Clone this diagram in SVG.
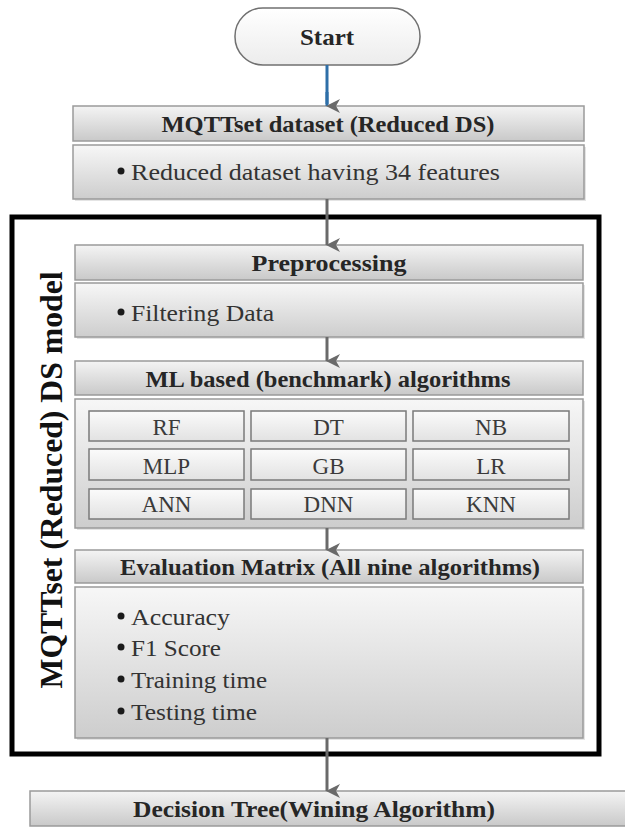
<svg xmlns="http://www.w3.org/2000/svg" width="625" height="827" viewBox="0 0 625 827">
<defs>
<linearGradient id="gHead" x1="0" y1="0" x2="0" y2="1">
<stop offset="0" stop-color="#f4f4f4"/><stop offset="1" stop-color="#c9c9c9"/>
</linearGradient>
<linearGradient id="gBody" x1="0" y1="0" x2="0" y2="1">
<stop offset="0" stop-color="#f7f7f7"/><stop offset="1" stop-color="#cdcdcd"/>
</linearGradient>
<linearGradient id="gCell" x1="0" y1="0" x2="0" y2="1">
<stop offset="0" stop-color="#fbfbfb"/><stop offset="1" stop-color="#e2e2e2"/>
</linearGradient>
<linearGradient id="gStart" x1="0" y1="0" x2="0" y2="1">
<stop offset="0" stop-color="#ffffff"/><stop offset="1" stop-color="#ececec"/>
</linearGradient>
<marker id="ah" markerWidth="14" markerHeight="14" viewBox="0 0 14 14" refX="7" refY="13" orient="auto-start-reverse" markerUnits="userSpaceOnUse">
<path d="M0,0 L7,4 L14,0 L7,14 Z" fill="#6a6a6a"/>
</marker>
<style>
.head{fill:url(#gHead);stroke:#9a9a9a;stroke-width:1.5}
.body{fill:url(#gBody);stroke:#9a9a9a;stroke-width:1.5}
.shadow{fill:#e4e4e4}
.cell{fill:url(#gCell);stroke:#7a7a7a;stroke-width:1.5}
.ht{font-family:"Liberation Serif","Times New Roman",serif;font-weight:bold;font-size:24px;fill:#262626;text-anchor:middle}
.bt{font-family:"Liberation Serif","Times New Roman",serif;font-size:24px;fill:#333333}
.ct{font-family:"Liberation Serif","Times New Roman",serif;font-size:23px;fill:#3a3a3a;text-anchor:middle}
.bul{fill:#1a1a1a}
.conn{stroke:#6a6a6a;stroke-width:3;fill:none;marker-end:url(#ah)}
</style>
</defs>

<g id="frame">
<rect x="12" y="217" width="587" height="537" fill="none" stroke="#000" stroke-width="5"/>
<text transform="translate(62,480) rotate(-90)" font-family="'Liberation Serif','Times New Roman',serif" font-weight="bold" font-size="32" fill="#111" text-anchor="middle" textLength="417" lengthAdjust="spacingAndGlyphs">MQTTset (Reduced) DS model</text>
</g>

<g id="start">
<rect x="235" y="8" width="185" height="57" rx="28" ry="28" fill="url(#gStart)" stroke="#707070" stroke-width="1.5"/>
<text x="327" y="45" class="ht" textLength="54" lengthAdjust="spacingAndGlyphs">Start</text>
</g>

<g id="dataset">
<rect x="73" y="106" width="511" height="35" class="head"/>
<text x="328" y="132" class="ht" textLength="333" lengthAdjust="spacingAndGlyphs">MQTTset dataset (Reduced DS)</text>
<rect x="75" y="147" width="511" height="54" class="shadow"/>
<rect x="73" y="145" width="511" height="54" class="body"/>
<circle cx="121" cy="171" r="3.5" class="bul"/>
<text x="131" y="180" class="bt" textLength="369" lengthAdjust="spacingAndGlyphs">Reduced dataset having 34 features</text>
</g>

<g id="preprocessing">
<rect x="75" y="245" width="508" height="35" class="head"/>
<text x="329" y="271" class="ht" textLength="155" lengthAdjust="spacingAndGlyphs">Preprocessing</text>
<rect x="77" y="285" width="508" height="54" class="shadow"/>
<rect x="75" y="283" width="508" height="54" class="body"/>
<circle cx="121" cy="312" r="3.5" class="bul"/>
<text x="131" y="321" class="bt" textLength="143" lengthAdjust="spacingAndGlyphs">Filtering Data</text>
</g>

<g id="ml">
<rect x="75" y="361" width="508" height="34" class="head"/>
<text x="328" y="387" class="ht" textLength="365" lengthAdjust="spacingAndGlyphs">ML based (benchmark) algorithms</text>
<rect x="77" y="401" width="508" height="129" class="shadow"/>
<rect x="75" y="399" width="508" height="129" class="body"/>
</g>

<g id="cell-rf"><rect x="89" y="411" width="155" height="30" class="cell"/><text x="166.5" y="435" class="ct">RF</text></g>
<g id="cell-dt"><rect x="251" y="411" width="155" height="30" class="cell"/><text x="328.5" y="435" class="ct">DT</text></g>
<g id="cell-nb"><rect x="413" y="411" width="156" height="30" class="cell"/><text x="491" y="435" class="ct">NB</text></g>
<g id="cell-mlp"><rect x="89" y="449" width="155" height="31" class="cell"/><text x="166.5" y="474" class="ct">MLP</text></g>
<g id="cell-gb"><rect x="251" y="449" width="155" height="31" class="cell"/><text x="328.5" y="474" class="ct">GB</text></g>
<g id="cell-lr"><rect x="413" y="449" width="156" height="31" class="cell"/><text x="491" y="474" class="ct">LR</text></g>
<g id="cell-ann"><rect x="89" y="489" width="155" height="30" class="cell"/><text x="166.5" y="512" class="ct">ANN</text></g>
<g id="cell-dnn"><rect x="251" y="489" width="155" height="30" class="cell"/><text x="328.5" y="512" class="ct">DNN</text></g>
<g id="cell-knn"><rect x="413" y="489" width="156" height="30" class="cell"/><text x="491" y="512" class="ct">KNN</text></g>

<g id="evaluation">
<rect x="75" y="550" width="508" height="33" class="head"/>
<text x="330" y="575" class="ht" textLength="420" lengthAdjust="spacingAndGlyphs">Evaluation Matrix (All nine algorithms)</text>
<rect x="77" y="589" width="508" height="151" class="shadow"/>
<rect x="75" y="587" width="508" height="151" class="body"/>
<circle cx="121" cy="616" r="3.5" class="bul"/>
<text x="131" y="625" class="bt" textLength="99" lengthAdjust="spacingAndGlyphs">Accuracy</text>
<circle cx="121" cy="647" r="3.5" class="bul"/>
<text x="131" y="656" class="bt" textLength="90" lengthAdjust="spacingAndGlyphs">F1 Score</text>
<circle cx="121" cy="679" r="3.5" class="bul"/>
<text x="131" y="688" class="bt" textLength="136" lengthAdjust="spacingAndGlyphs">Training time</text>
<circle cx="121" cy="711" r="3.5" class="bul"/>
<text x="131" y="720" class="bt" textLength="126" lengthAdjust="spacingAndGlyphs">Testing time</text>
</g>

<g id="decision">
<rect x="30" y="791" width="600" height="35" class="head"/>
<text x="314" y="817" class="ht" textLength="362" lengthAdjust="spacingAndGlyphs">Decision Tree(Wining Algorithm)</text>
</g>

<g id="connectors">
<line x1="327" y1="65" x2="327" y2="106" stroke="#2e6fa8" stroke-width="3" marker-end="url(#ah)"/>
<line x1="327" y1="92" x2="327" y2="104" stroke="#2e6fa8" stroke-width="3"/>
<line x1="327" y1="199" x2="327" y2="245" class="conn"/>
<line x1="327" y1="337" x2="327" y2="361" class="conn"/>
<line x1="327" y1="528" x2="327" y2="550" class="conn"/>
<line x1="327" y1="738" x2="327" y2="791" class="conn"/>
</g>
</svg>
